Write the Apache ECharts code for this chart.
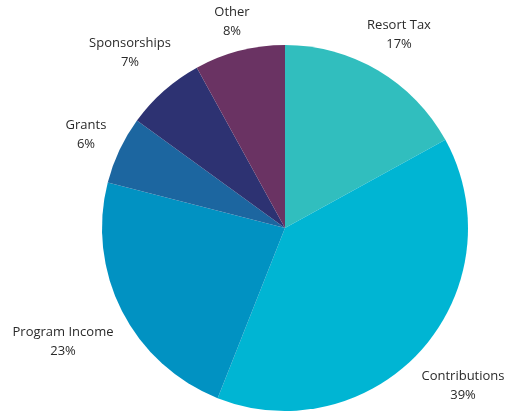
<!DOCTYPE html>
<html>
<head>
<meta charset="utf-8">
<script src="https://cdn.jsdelivr.net/npm/echarts@6/dist/echarts.min.js"></script>
<style>
  html, body { margin: 0; padding: 0; background: #fff; }
  #chart { width: 507px; height: 416px; }
</style>
</head>
<body>
<div id="chart"></div>
<script>
// 收入来源
const categories = ["Resort Tax", "Contributions", "Program Income", "Grants", "Sponsorships", "Other"];
const values = [17, 39, 23, 6, 7, 8];
const colors = ["#31BEBE", "#00B5D3", "#0192C2", "#1C66A0", "#2D3272", "#6A3363"];

// label anchor points (layout only)
const labelPos = [
  [399, 35], [463, 386], [63, 342], [86, 135], [130, 53], [232, 22]
];

const chart = echarts.init(document.getElementById("chart"));

const option = {
  animation: false,
  series: [
    {
      type: "pie",
      center: [285, 228],
      radius: 183,
      startAngle: 90,
      clockwise: true,
      data: categories.map((name, i) => ({
        name: name,
        value: values[i],
        itemStyle: { color: colors[i] }
      })),
      itemStyle: { borderWidth: 0 },
      label: {
        show: true,
        position: "outside",
        formatter: "{b}\n{c}%",
        align: "center",
        overflow: "none",
        color: "#2a2a2a",
        fontFamily: "Open Sans",
        fontSize: 13,
        lineHeight: 19
      },
      labelLine: { show: false },
      labelLayout: function (params) {
        const p = labelPos[params.dataIndex];
        return { x: p[0], y: p[1], align: "center", verticalAlign: "middle", width: 200 };
      }
    }
  ]
};

chart.setOption(option);
</script>
</body>
</html>
